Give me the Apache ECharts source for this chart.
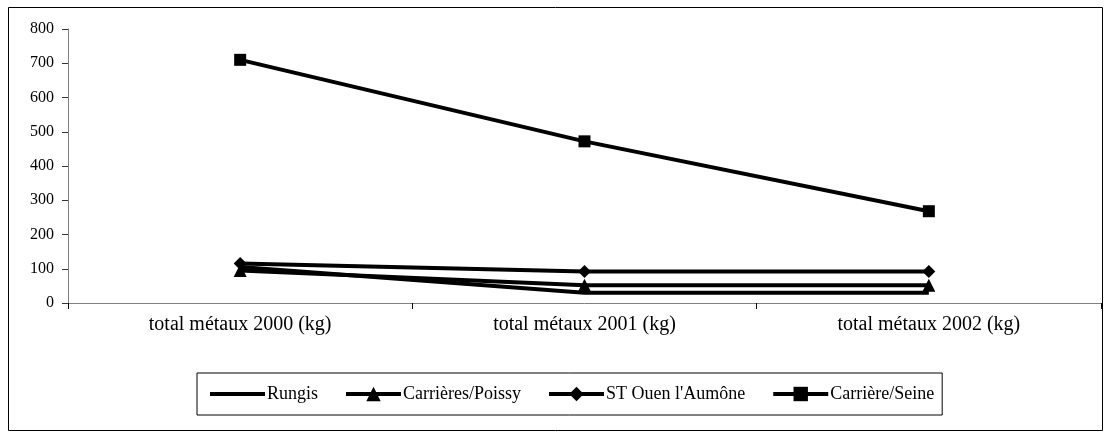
<!DOCTYPE html>
<html><head><meta charset="utf-8">
<script src="https://cdn.jsdelivr.net/npm/echarts@6/dist/echarts.min.js"></script>
<style>html,body{margin:0;padding:0;background:#fff}#c{width:1109px;height:436px}</style>
</head><body><div id="c"></div>
<script>
const categories = ['total métaux 2000 (kg)', 'total métaux 2001 (kg)', 'total métaux 2002 (kg)'];
const rungis = [105, 30, 30];
const carrieresPoissy = [95, 52, 52];
const stOuen = [115, 92, 92];
const carriereSeine = [710, 472, 268];
const yTicks = [0, 800, 100];

const font = 'Liberation Serif';
const chart = echarts.init(document.getElementById('c'), null, {renderer: 'canvas'});
function mk(name, data, symbol, size) {
  return {
    name, type: 'line', data, symbol, symbolSize: size, showSymbol: symbol !== 'none',
    lineStyle: {color: '#000', width: 4}, itemStyle: {color: '#000'},
    emphasis: {disabled: true}, animation: false
  };
}
chart.setOption({
  animation: false,
  backgroundColor: '#fff',
  graphic: [{type: 'rect', shape: {x: 8.5, y: 7.5, width: 1094, height: 423}, style: {fill: 'none', stroke: '#000', lineWidth: 1}, z: -1}],
  grid: {left: 68, right: 8, top: 29, bottom: 133},
  xAxis: {
    type: 'category', data: categories, boundaryGap: true,
    axisLine: {lineStyle: {color: '#808080', width: 1}},
    axisTick: {show: true, length: 6, inside: false, lineStyle: {color: '#000'}},
    axisLabel: {color: '#000', fontFamily: font, fontSize: 20, margin: 12}
  },
  yAxis: {
    type: 'value', min: yTicks[0], max: yTicks[1], interval: yTicks[2],
    splitLine: {show: false},
    axisLine: {show: true, lineStyle: {color: '#808080', width: 1}},
    axisTick: {show: true, length: 6, lineStyle: {color: '#333'}},
    axisLabel: {color: '#000', fontFamily: font, fontSize: 16, margin: 14}
  },
  legend: {
    left: 197, top: 373,
    padding: [12, 8, 12, 13],
    borderColor: '#000', borderWidth: 1,
    itemWidth: 55, itemHeight: 18, itemGap: 26,
    lineStyle: {width: 4},
    textStyle: {color: '#000', fontFamily: font, fontSize: 18, padding: [0, 0, 0, -3]},
    data: [
      {name: 'Rungis', icon: 'path://M0,0 L55,0 L55,4 L0,4 Z'},
      'Carrières/Poissy', "ST Ouen l'Aumône", 'Carrière/Seine'
    ]
  },
  series: [
    mk('Rungis', rungis, 'none', 0),
    mk('Carrières/Poissy', carrieresPoissy, 'triangle', 13),
    mk("ST Ouen l'Aumône", stOuen, 'diamond', 13),
    mk('Carrière/Seine', carriereSeine, 'rect', 12)
  ]
});
</script></body></html>
